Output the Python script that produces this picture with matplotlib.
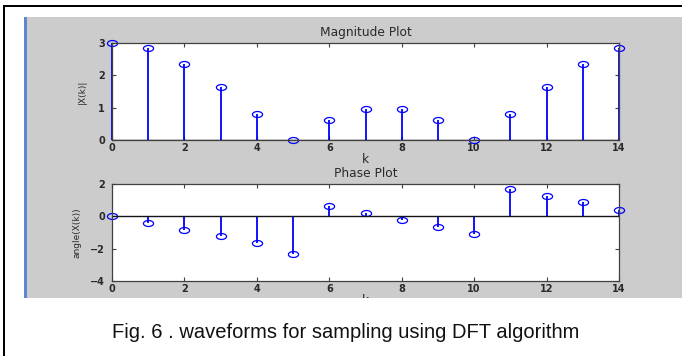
import matplotlib.pyplot as plt
import numpy as np
from matplotlib.path import Path
from matplotlib.patches import Rectangle
from matplotlib.transforms import Affine2D

# Data
k = np.arange(15)
magnitude = [3.0, 2.85, 2.36, 1.63, 0.80, 0.0, 0.63, 0.95, 0.95, 0.62, 0.0, 0.80, 1.63, 2.36, 2.85]
phase = [0.0, -0.41, -0.84, -1.23, -1.66, -2.36, 0.66, 0.20, -0.20, -0.64, -1.10, 1.70, 1.25, 0.86, 0.41]
xticks = [0, 2, 4, 6, 8, 10, 12, 14]
mag_yticks = [0, 1, 2, 3]
phase_yticks = [-4, -2, 0, 2]
caption = 'Fig. 6 . waveforms for sampling using DFT algorithm'

stem_blue = '#0000ff'
axis_grey = '#404040'
text_col = '#2a2a2a'
tick_font = dict(family='DejaVu Sans', size=7, weight='bold', color=text_col)
label_font = dict(family='DejaVu Sans', size=8.8, color=text_col)
ylab_font = dict(family='DejaVu Sans', size=6.5, color=text_col)

# the screenshot is stretched sideways, so the circles are ellipses
ellipse = Path.unit_circle().transformed(Affine2D().scale(1.7, 1.0))

fig = plt.figure(figsize=(6.82, 3.56), dpi=100)
fig.patch.set_facecolor('white')

# grey MATLAB figure area, blue edge line and black page border
grey = Rectangle((25/682, 1 - 298/356), 657/682, 281/356, transform=fig.transFigure,
                 facecolor='#cccccc', edgecolor='none', zorder=-2)
fig.patches.append(grey)
fig.patches.append(Rectangle((24/682, 1 - 298/356), 2.5/682, 281/356, transform=fig.transFigure,
                             facecolor='#5b86d0', edgecolor='none', zorder=-1))
fig.patches.append(Rectangle((3/682, 0), 2/682, 1 - 5/356, transform=fig.transFigure,
                             facecolor='black', edgecolor='none', zorder=-1))
fig.patches.append(Rectangle((3/682, 1 - 7/356), 679/682, 2/356, transform=fig.transFigure,
                             facecolor='black', edgecolor='none', zorder=-1))

ax1 = fig.add_axes([112/682, 1 - 140/356, 507/682, 97/356])
ax2 = fig.add_axes([112/682, 1 - 281/356, 507/682, 97/356])


def draw_stem(ax, values):
    markers, stems, base = ax.stem(k, values, basefmt='-')
    stems.set_color(stem_blue)
    stems.set_linewidth(1.3)
    markers.set_marker(ellipse)
    markers.set_markersize(7.3)
    markers.set_markerfacecolor('none')
    markers.set_markeredgecolor(stem_blue)
    markers.set_markeredgewidth(0.9)
    markers.set_clip_on(False)
    stems.set_clip_on(False)
    base.set_color('#151515')
    base.set_linewidth(1.0)
    return markers


def style_axes(ax, yticks):
    ax.set_xlim(0, 14)
    ax.set_xticks(xticks)
    ax.set_yticks(yticks)
    ax.set_ylim(yticks[0], yticks[-1])
    ax.tick_params(direction='in', top=True, right=True, length=3, width=0.8,
                   color=axis_grey, pad=2)
    ax.tick_params(axis='y', pad=5)
    for lab in ax.get_xticklabels() + ax.get_yticklabels():
        lab.set(**tick_font)
    for sp in ax.spines.values():
        sp.set_color(axis_grey)
        sp.set_linewidth(0.9)


draw_stem(ax1, magnitude)
style_axes(ax1, mag_yticks)
ax1.set_title('Magnitude Plot', pad=5, **label_font)
ax1.set_xlabel('k', labelpad=0, **label_font)
ax1.set_ylabel('|X(k)|', labelpad=8, **ylab_font)

draw_stem(ax2, phase)
style_axes(ax2, phase_yticks)
ax2.set_title('Phase Plot', pad=5, **label_font)
xl = ax2.set_xlabel('k', labelpad=0, **label_font)
xl.set_clip_path(grey)
ax2.set_ylabel('angle(X(k))', labelpad=6, **ylab_font)

fig.text(346/682, 1 - 338/356, caption, family='Liberation Sans', size=14.5,
         ha='center', va='baseline', color='#111111')

plt.savefig('out.png', dpi=100)
